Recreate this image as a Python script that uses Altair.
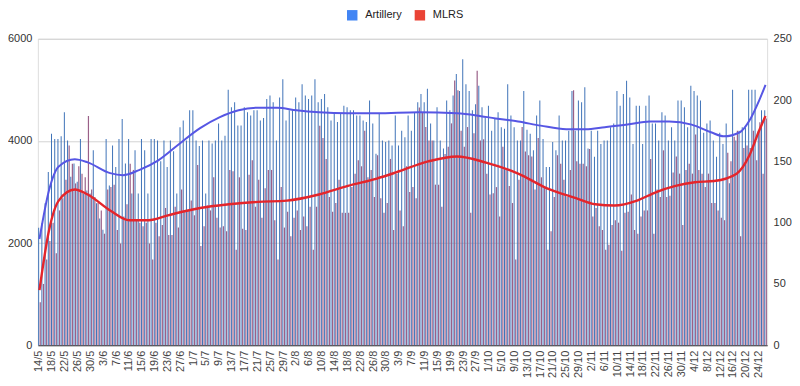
import datetime as dt
import altair as alt
import pandas as pd

# ---- data ----
start_date = dt.date(2022, 5, 14)

artillery = [
    2300, 2390, 2780, 3390, 4140, 4040, 4040, 4090, 4560, 4010, 3300, 3560, 3200, 4040, 2970, 3030, 2970, 3820, 2780, 2480,
    2260, 4040, 3130, 3910, 3490, 4040, 4430, 3560, 4040, 2970, 3820, 2970, 4040, 3820, 2970, 4040, 4040,
    4010, 3600, 4010, 3490, 4010, 3800, 2970, 4270, 4400, 4010, 4600, 4600, 4010, 3900, 4010, 2970, 4010, 3950, 4010, 4340,
    4010, 4100, 5000, 4660, 4760, 4300, 4300, 4660, 4560, 4500, 4600, 4600, 4400, 4450, 4820, 4890, 4760, 4010,
    4850, 5210, 4400, 4600, 4600, 4850, 4760, 5110, 4890, 4820, 4890, 5210, 4760, 4820, 4920, 4660, 4400, 4530, 4370, 4530,
    4690, 4660, 4600, 4600, 4500, 4500, 4400, 4370, 4790, 4340, 3750, 4530, 4010, 3980, 4010, 3910, 4500, 3910,
    4200, 4070, 4500, 4200, 4560, 4760, 4920, 4760, 5020, 4340, 4010, 4660, 4010, 3850, 4790, 4600, 4890, 5310, 4980, 5600,
    5110, 4980, 4600, 4720, 5080, 4660, 4460, 4690, 4200, 4430, 4560, 4270, 4240, 5110, 4500, 4270, 4010, 4010,
    4980, 4220, 4140, 3820, 4500, 4790, 4040, 3490, 3490, 3980, 3820, 4500, 4010, 4010, 4200, 4980, 4200, 4790, 4760, 5050,
    3850, 4200, 3690, 4200, 3940, 4010, 4010, 4270, 4340, 4980, 4690, 4920, 5180, 4850, 3940, 4690, 4690, 3940,
    4690, 4890, 4340, 4340, 4010, 4560, 4500, 4010, 4270, 4010, 4790, 4790, 4660, 4270, 5080, 4980, 4890, 4790, 4160, 4340,
    4400, 4010, 3690, 4160, 3940, 4340, 3170, 5000, 4010, 4200, 4270, 4270, 5000, 5000, 5000, 4200, 4600, 4600,
]

mlrs = [
    35, 50, 70, 85, 100, 75, 110, 120, 135, 163, 148, 132, 146, 140, 137, 187, 127, 121, 116, 110,
    91, 127, 129, 131, 94, 83, 105, 115, 148, 143, 102, 100, 97, 100, 83, 70, 100,
    89, 98, 112, 90, 90, 113, 96, 127, 109, 110, 118, 106, 147, 81, 97, 114, 110, 137, 104, 96,
    97, 93, 143, 142, 78, 137, 95, 94, 139, 151, 113, 135, 104, 128, 143, 143, 102, 70,
    129, 96, 109, 89, 104, 110, 94, 105, 97, 113, 78, 113, 179, 169, 152, 121, 109, 116, 135, 108,
    108, 108, 129, 140, 151, 146, 175, 137, 143, 121, 155, 120, 108, 116, 152, 94, 140, 110,
    97, 146, 125, 129, 120, 194, 190, 178, 167, 167, 131, 131, 113, 156, 162, 181, 216, 208, 175, 162,
    178, 108, 173, 224, 167, 168, 140, 123, 124, 129, 105, 162, 143, 130, 116, 70, 135, 178,
    158, 155, 154, 127, 169, 137, 129, 78, 93, 121, 155, 148, 135, 121, 143, 208, 150, 148, 148, 146,
    160, 105, 112, 97, 94, 78, 82, 98, 102, 100, 77, 108, 109, 123, 94, 91, 105, 110,
    110, 152, 91, 127, 121, 159, 121, 122, 141, 154, 140, 98, 143, 148, 140, 172, 143, 140, 129, 140,
    116, 116, 110, 104, 102, 157, 150, 170, 175, 89, 161, 163, 161, 175, 151, 182, 140, 185,
]

# trend lines (read at selected days, counted from the first date)
art_trend_days = [0, 3, 6, 11, 15, 22, 26, 31, 37, 43, 50, 56, 62, 68, 74, 80, 87, 96, 105, 118, 130, 136,
                  142, 149, 156, 164, 170, 176, 183, 190, 196, 203, 209, 213, 218, 221, 224, 226]
art_trend_vals = [2080, 3040, 3500, 3640, 3580, 3370, 3330, 3430, 3620, 3915, 4250, 4460, 4600, 4650, 4650,
                  4600, 4560, 4540, 4540, 4560, 4540, 4500, 4440, 4380, 4300, 4230, 4230, 4270, 4320, 4380,
                  4380, 4320, 4170, 4090, 4170, 4400, 4790, 5100]

mlrs_trend_days = [0, 3, 6, 11, 15, 22, 28, 34, 40, 50, 59, 68, 77, 87, 96, 105, 111, 121, 130, 139, 149,
                   158, 167, 173, 179, 186, 192, 198, 204, 210, 217, 221, 224, 226]
mlrs_trend_vals = [45, 94, 118, 127, 123, 110, 102, 102, 106, 112, 115, 117, 118, 123, 130, 136, 141, 150,
                   154, 149, 140, 128, 120, 115, 114, 118, 125, 130, 133, 134, 140, 155, 175, 187]

series_names = ["Artillery", "MLRS"]
legend_colors = ["#4285F4", "#EA4335"]

# ---- tables ----
dates = [f"{d.day}/{d.month}" for d in
         (start_date + dt.timedelta(days=i) for i in range(len(artillery)))]
label_dates = dates[::4]

bars = pd.DataFrame({"date": dates, "artillery": artillery, "mlrs": mlrs})
art_tr = pd.DataFrame({"date": [dates[i] for i in art_trend_days], "v": art_trend_vals})
mlrs_tr = pd.DataFrame({"date": [dates[i] for i in mlrs_trend_days], "v": mlrs_trend_vals})
legend_df = pd.DataFrame({"series": series_names, "date": [dates[0], dates[0]], "z": [0, 0]})

FONT = "Liberation Sans"

xscale = alt.Scale(domain=dates, paddingInner=0, paddingOuter=0)
x_axis = alt.Axis(values=label_dates, labelAngle=-90, ticks=False, domain=True, domainColor="#333333",
                  labelFontSize=11, labelColor="#444444", labelPadding=5, title=None, grid=False,
                  labelFont=FONT, labelOverlap=False)
left_scale = alt.Scale(domain=[0, 6000], nice=False)
right_scale = alt.Scale(domain=[0, 250], nice=False)

x_enc = alt.X("date:N", scale=xscale, axis=x_axis, sort=dates)

art_bars = alt.Chart(bars).mark_bar(width=1.0, xOffset=-0.8, color="#3f73b8").encode(
    x=x_enc,
    y=alt.Y("artillery:Q", scale=left_scale,
            axis=alt.Axis(values=[0, 2000, 4000, 6000], format="d", grid=True, gridColor="#d3d3d3",
                          domain=False, ticks=False, labelFontSize=11, labelColor="#333333",
                          labelPadding=6, title=None, labelFont=FONT)),
)

mlrs_bars = alt.Chart(bars).mark_bar(width=1.2, xOffset=0.8, color="#9a6088").encode(
    x=x_enc,
    y=alt.Y("mlrs:Q", scale=right_scale,
            axis=alt.Axis(orient="right", values=[0, 50, 100, 150, 200, 250], grid=False, domain=False,
                          ticks=False, labelFontSize=11, labelColor="#333333", labelPadding=6,
                          title=None, labelFont=FONT)),
)

art_line = alt.Chart(art_tr).mark_line(color="#5656e4", strokeWidth=2, interpolate="monotone").encode(
    x=x_enc,
    y=alt.Y("v:Q", scale=left_scale, axis=None),
)

mlrs_line = alt.Chart(mlrs_tr).mark_line(color="#e4252b", strokeWidth=2.4, interpolate="monotone").encode(
    x=x_enc,
    y=alt.Y("v:Q", scale=right_scale, axis=None),
)

legend_layer = alt.Chart(legend_df).mark_bar(width=1).encode(
    x=x_enc,
    y=alt.Y("z:Q", scale=left_scale, axis=None),
    y2="z:Q",
    color=alt.Color("series:N", scale=alt.Scale(domain=series_names, range=legend_colors),
                    legend=alt.Legend(title=None, orient="none", legendX=310, legendY=-30,
                                      direction="horizontal", symbolType="square", symbolSize=110,
                                      labelFontSize=11, labelColor="#222222", columnPadding=12,
                                      labelOffset=7, padding=0, labelFont=FONT)),
)

chart = alt.layer(art_bars, mlrs_bars, legend_layer, art_line, mlrs_line).resolve_scale(
    y="independent"
).properties(
    width=733, height=308,
    autosize=alt.AutoSizeParams(type="none"),
    padding={"left": 30, "top": 30, "right": 25, "bottom": 36},
).configure_view(stroke=None).configure(background="white")

chart.save("out.html", embed_options={"renderer": "svg", "actions": False})
